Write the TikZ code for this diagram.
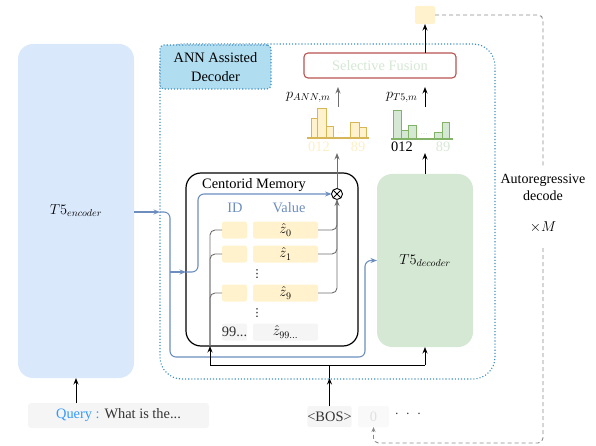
\documentclass[tikz,border=0pt]{standalone}
\usepackage{fontspec}
\setmainfont{Liberation Serif}
\newfontfamily\djvfont{DejaVu Sans}
\usetikzlibrary{arrows.meta}
\definecolor{encfill}{HTML}{DAE8FC}
\definecolor{decfill}{HTML}{D5E8D4}
\definecolor{annfill}{HTML}{B1DDF0}
\definecolor{annblue}{HTML}{3A8DBF}
\definecolor{bluearrow}{HTML}{6C8EBF}
\definecolor{yfill}{HTML}{FFF2CC}
\definecolor{ydraw}{HTML}{D6B656}
\definecolor{gdraw}{HTML}{82B366}
\definecolor{grayfill}{HTML}{F5F5F5}
\definecolor{fusionred}{HTML}{B85450}
\definecolor{qblue}{HTML}{3399FF}
\definecolor{txtgray}{HTML}{333333}
\definecolor{linegray}{HTML}{6E6E6E}
\definecolor{dashgray}{HTML}{8A8A8A}
\definecolor{paleyellow}{HTML}{FDEFC4}
\begin{document}
\begin{tikzpicture}[x=1pt,y=-1pt,
  font=\fontsize{14.4}{17}\selectfont,
  >={Stealth[length=6.5pt,width=5pt]},
  box/.style={rectangle,inner sep=0pt,outer sep=0pt},
  ybox/.style={box,fill=yfill,rounded corners=2,minimum height=17},
  gbox/.style={box,fill=grayfill,rounded corners=2,minimum height=17},
  vdotnode/.style={inner sep=0pt,font=\djvfont\fontsize{11}{11}\selectfont},
  bline/.style={bluearrow,line width=1.1,rounded corners=6},
  gline/.style={linegray,line width=0.9,rounded corners=5},
  kline/.style={black,line width=1},
  dline/.style={dashgray,line width=0.9,dashed,dash pattern=on 4pt off 3pt,rounded corners=5},
  ybar/.style={fill=yfill,draw=ydraw,line width=1},
  tbar/.style={fill=decfill,draw=gdraw,line width=1}]
\useasboundingbox (0,0) rectangle (596,446);

% encoder and query
\node[box,fill=encfill,rounded corners=15,minimum width=116,minimum height=334] (enc) at (76,211) {$T5_{encoder}$};
\node[box,fill=grayfill,rounded corners=3,minimum width=181,minimum height=25] (query) at (118.5,415.5) {\textcolor{qblue}{Query :} \textcolor{txtgray}{What is the...}};
\draw[kline,->] (query.north -| enc.south) -- (enc.south);

% outer dotted region
\node[box,draw=annblue,line width=1.1,dotted,rounded corners=22,minimum width=335,minimum height=335] (outer) at (327.5,211.5) {};
\node[box,fill=annfill,draw=annblue,line width=1.1,dotted,rounded corners=4,minimum width=111,minimum height=44,align=center,font=\fontsize{14.4}{18.5}\selectfont] (annlabel) at (215.5,67) {ANN Assisted\\Decoder};

% selective fusion and output
\node[box,draw=fusionred,line width=1.1,fill=white,rounded corners=4,minimum width=152,minimum height=25,text=decfill] (fusion) at (380,65.5) {Selective Fusion};
\node[box,fill=yfill,rounded corners=2,minimum width=20,minimum height=18] (out) at (425,15) {};
\draw[kline,->] (fusion.north -| out.south) -- (out.south);

% centroid memory
\node[box,draw=black,line width=1.2,rounded corners=15,minimum width=172,minimum height=173] (cm) at (272,259.5) {};
\node (cmtitle) at (254,185) {Centorid Memory};
\node[draw=black,line width=0.9,circle,minimum size=11,inner sep=0pt,outer sep=0pt] (ot) at (337,194) {};
\draw[black,line width=0.9] (ot.north west) -- (ot.south east) (ot.north east) -- (ot.south west);
\node[text=bluearrow] (idh) at (235,208) {ID};
\node[text=bluearrow] (valh) at (289,208) {Value};

\node[ybox,minimum width=25] (id0) at (234.5,230) {};
\node[ybox,minimum width=65] (v0) at (285.5,230) {$\hat z_0$};
\node[ybox,minimum width=25] (id1) at (234.5,254) {};
\node[ybox,minimum width=65] (v1) at (285.5,254) {$\hat z_1$};
\node[vdotnode] (vd1) at (257,274) {⋮};
\node[ybox,minimum width=25] (id9) at (234.5,293) {};
\node[ybox,minimum width=65] (v9) at (285.5,293) {$\hat z_9$};
\node[vdotnode] (vd2) at (257,313) {⋮};
\node[gbox,minimum width=25,text=txtgray] (id99) at (234.5,332) {99...};
\node[gbox,minimum width=65] (v99) at (285.5,332) {$\hat z_{99...}$};

% gray lines into ID boxes
\coordinate (gl) at (210,346);
\draw[gline] (gl) -- (210,230) -- (id0.west);
\draw[gline] (gl) -- (210,254) -- (id1.west);
\draw[gline] (gl) -- (210,293) -- (id9.west);
% value lines into otimes
\draw[gline] (v1.east) -- (ot.south |- v1.east) -- (ot.south);
\draw[gline] (v9.east) -- (ot.south |- v9.east) -- (ot.south);
\draw[gline,->] (v0.east) -- (ot.south |- v0.east) -- (ot.south);

% decoder
\node[box,fill=decfill,rounded corners=15,minimum width=96,minimum height=173] (dec) at (425,260.5) {$T5_{decoder}$};

% blue connections
\coordinate (bj) at (160,212);
\coordinate (cmin) at (186,272);
\draw[bline,->] (enc.east |- bj) -- (bj);
\draw[bline,->] (bj) -- (170,212) -- (170,357) -- (365,357) -- (365,260.5) -- (dec.west);
\draw[bline,->] (170,272) -- (cmin);
\draw[bline,->] (cmin) -- (198,272) -- (198,194) -- (ot.west);

% BOS and bottom black lines
\node[box,fill=grayfill,rounded corners=2,minimum width=39,minimum height=21,text=txtgray] (bos) at (329.5,416.5) {<BOS>};
\node[box,fill=grayfill!60,rounded corners=2,minimum width=31,minimum height=21,text=black!12] (zero) at (373.5,416.5) {0};
\node[text=txtgray] (dots) at (408,414) {$\cdot\hspace{4pt}\cdot\hspace{4pt}\cdot$};
\coordinate (bosj) at (329.5,365);
\coordinate (bosm) at (329.5,378);
\draw[kline,->] (bos.north) -- (bosm);
\draw[kline] (bosm) -- (bosj);
\draw[kline] (210,365) -- (dec.south |- bosj);
\draw[kline,->] (210,365) -- (gl);
\draw[kline,->] (dec.south |- bosj) -- (dec.south);

% histograms
\coordinate (annbase) at (337,153);
\coordinate (t5base) at (425,153);
\draw[linegray,line width=1,->] (ot.north) -- (annbase);
\draw[kline,->] (dec.north) -- (t5base);

\draw[ybar] (311,138) rectangle (317,119);
\draw[ybar] (317,138) rectangle (326,109);
\draw[ybar] (326,138) rectangle (333,127);
\draw[ybar] (350,138) rectangle (359,123);
\draw[ybar] (359,138) rectangle (366,128);
\draw[ydraw,line width=1.3] (307,138) -- (369,138);
\node[text=paleyellow,font=\fontsize{10}{12}\selectfont] (annd) at (341,133) {...};
\node[text=paleyellow] (ann012) at (319,147) {012};
\node[text=paleyellow] (ann89) at (358,147) {89};

\draw[tbar] (393,139) rectangle (401,111);
\draw[tbar] (401,139) rectangle (408,131);
\draw[tbar] (408,139) rectangle (416,126);
\draw[tbar] (434,139) rectangle (442,133);
\draw[tbar] (442,139) rectangle (449,123);
\draw[gdraw,line width=1.3] (391,139) -- (453,139);
\node[text=decfill,font=\fontsize{10}{12}\selectfont] (t5d) at (424,134) {...};
\node (t5012) at (402,147) {012};
\node[text=decfill] (t589) at (443,147) {89};

% probabilities to fusion
\coordinate (pa0) at (338,107);
\coordinate (pa1) at (338,87);
\coordinate (pt0) at (425,107);
\coordinate (pt1) at (425,87);
\draw[linegray,line width=1,->] (pa0) -- (pa1);
\draw[kline,->] (pt0) -- (pt1);
\node[anchor=east] (pann) at (334,97) {$p_{ANN,m}$};
\node[anchor=east] (pt5) at (421,97) {$p_{T5,m}$};

% autoregressive loop
\coordinate (ar1) at (543,167);
\coordinate (ar2) at (543,248);
\draw[dline] (out.east) -- (543,15) -- (ar1);
\draw[dline,-{Stealth[length=5pt,width=4pt]}] (ar2) -- (543,443) -- (zero.south |- 0,443) -- (zero.south);
\node[font=\fontsize{14}{16}\selectfont] (art1) at (543,180) {Autoregressive};
\node[font=\fontsize{14}{16}\selectfont] (art2) at (543,196) {decode};
\node (artm) at (543,227) {$\times M$};
\end{tikzpicture}
\end{document}
